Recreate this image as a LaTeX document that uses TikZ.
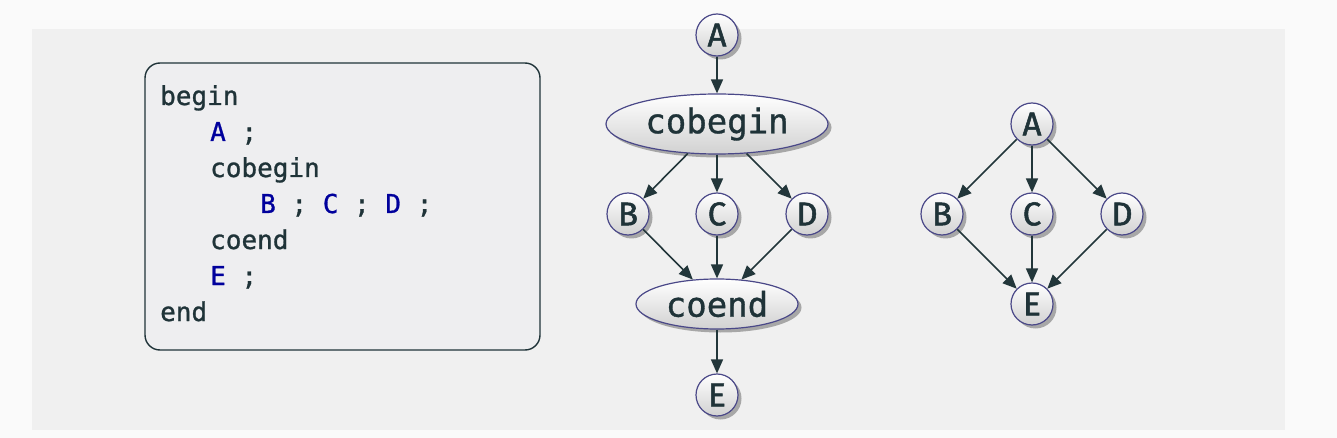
\documentclass[tikz,border=0pt]{standalone}
\usepackage{fontspec}
\setmainfont{Fira Sans}
\newfontfamily\nodefont{Fira Sans}[FakeBold=1.6]
\newfontfamily\codefont{DejaVu Sans Mono}[FakeBold=1.0]
\usetikzlibrary{shapes.geometric,shadows,arrows.meta}
\definecolor{bgout}{HTML}{FAFAFA}
\definecolor{bgin}{HTML}{F0F0F0}
\definecolor{codebg}{HTML}{EEEEF0}
\definecolor{ink}{HTML}{1F3338}
\definecolor{kw}{HTML}{00009C}
\definecolor{rim}{HTML}{4A4888}
\definecolor{arr}{HTML}{22363A}
\begin{document}
\begin{tikzpicture}[x=1pt,y=-1pt,
  gnode/.style={draw=rim, line width=1.2pt, top color=white, bottom color=black!18,
    drop shadow={shadow xshift=3.5pt,shadow yshift=-3.5pt,opacity=0.3,fill=black},
    text=ink, inner sep=0pt},
  circ/.style={gnode, circle, minimum size=42pt, font=\nodefont\fontsize{33}{36}\selectfont},
  ell/.style={gnode, ellipse, font=\codefont\fontsize{34}{40}\selectfont},
  codeline/.style={anchor=base west, inner sep=0pt, text=ink, font=\codefont\fontsize{26}{30}\selectfont},
  edge/.style={draw=arr, line width=1.6pt, -{Triangle[length=14pt,width=12pt]}}]
\useasboundingbox (0,0) rectangle (1337,438);
\fill[bgout] (0,0) rectangle (1337,438);
\fill[bgin] (32,29) rectangle (1285,430);
% code box
\node[draw=ink, fill=codebg, line width=1.4pt, rounded corners=15pt,
  minimum width=395pt, minimum height=287pt, inner sep=0pt] (codebox) at (342.5,206.5) {};
\node[codeline] (l1) at (160,105) {begin};
\node[codeline] (l2) at (210,141) {\textcolor{kw}{A} ;};
\node[codeline] (l3) at (210,177) {cobegin};
\node[codeline] (l4) at (260,213) {\textcolor{kw}{B} ; \textcolor{kw}{C} ; \textcolor{kw}{D} ;};
\node[codeline] (l5) at (210,249) {coend};
\node[codeline] (l6) at (210,285) {\textcolor{kw}{E} ;};
\node[codeline] (l7) at (160,321) {end};
% middle graph
\node[circ] (mA) at (717,35) {A};
\node[ell, minimum width=222pt, minimum height=60pt] (cob) at (717,124) {cobegin};
\node[circ] (mB) at (628,214) {B};
\node[circ] (mC) at (717,214) {C};
\node[circ] (mD) at (807,214) {D};
\node[ell, minimum width=162pt, minimum height=50pt] (coe) at (717,304) {coend};
\node[circ] (mE) at (717,395) {E};
\draw[edge] (mA) -- (cob);
\draw[edge] (cob) -- (mB);
\draw[edge] (cob) -- (mC);
\draw[edge] (cob) -- (mD);
\draw[edge] (mB) -- (coe);
\draw[edge] (mC) -- (coe);
\draw[edge] (mD) -- (coe);
\draw[edge] (coe) -- (mE);
% right graph
\node[circ] (rA) at (1032,124) {A};
\node[circ] (rB) at (942,214) {B};
\node[circ] (rC) at (1032,214) {C};
\node[circ] (rD) at (1122,214) {D};
\node[circ] (rE) at (1032,304) {E};
\draw[edge] (rA) -- (rB);
\draw[edge] (rA) -- (rC);
\draw[edge] (rA) -- (rD);
\draw[edge] (rB) -- (rE);
\draw[edge] (rC) -- (rE);
\draw[edge] (rD) -- (rE);
\end{tikzpicture}
\end{document}
